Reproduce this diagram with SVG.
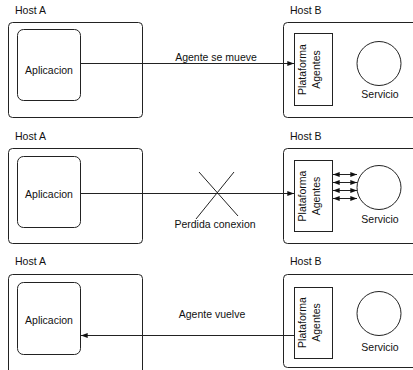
<svg xmlns="http://www.w3.org/2000/svg" width="413" height="370" viewBox="0 0 413 370">
<style>
.box{fill:none;stroke:#222;stroke-width:1}
.ln{fill:none;stroke:#222;stroke-width:1}
text{font-family:"Liberation Sans",Arial,sans-serif;font-size:10.5px;fill:#111}
.c{text-anchor:middle}
</style>
<defs>
<marker id="ah" viewBox="0 0 8 6" refX="8" refY="3" markerWidth="7" markerHeight="5" orient="auto-start-reverse" markerUnits="userSpaceOnUse">
<path d="M0,0 L8,3 L0,6 z" fill="#111"/>
</marker>
</defs>
<rect width="413" height="370" fill="#fff"/>

<!-- Panel 1 -->
<g id="hostA1">
<text x="15" y="14">Host A</text>
<rect class="box" x="8.5" y="22.5" width="134" height="95" rx="4"/>
</g>
<g id="app1">
<rect class="box" x="17.5" y="29.5" width="63" height="71" rx="6"/>
<text class="c" x="49" y="74">Aplicacion</text>
</g>
<g id="hostB1">
<text x="290" y="14">Host B</text>
<rect class="box" x="283.5" y="22.5" width="140" height="95" rx="4"/>
</g>
<g id="plat1">
<rect class="box" x="294.5" y="33.5" width="38" height="72"/>
<text class="c" transform="translate(306,69.5) rotate(-90)">Plataforma</text>
<text class="c" transform="translate(320,69.5) rotate(-90)">Agentes</text>
</g>
<g id="serv1">
<circle class="box" cx="379" cy="63.5" r="22"/>
<text class="c" x="380" y="98">Servicio</text>
</g>

<!-- Panel 2 -->
<g id="hostA2">
<text x="15" y="140">Host A</text>
<rect class="box" x="8.5" y="148.5" width="134" height="95" rx="4"/>
</g>
<g id="app2">
<rect class="box" x="17.5" y="156.5" width="63" height="71" rx="6"/>
<text class="c" x="49" y="198">Aplicacion</text>
</g>
<g id="hostB2">
<text x="290" y="140">Host B</text>
<rect class="box" x="283.5" y="148.5" width="140" height="95" rx="4"/>
</g>
<g id="plat2">
<rect class="box" x="294.5" y="160.5" width="38" height="71"/>
<text class="c" transform="translate(306,196) rotate(-90)">Plataforma</text>
<text class="c" transform="translate(320,196) rotate(-90)">Agentes</text>
</g>
<g id="serv2">
<circle class="box" cx="379" cy="187.5" r="22"/>
<text class="c" x="380" y="223">Servicio</text>
</g>

<!-- Panel 3 -->
<g id="hostA3">
<text x="15" y="265">Host A</text>
<rect class="box" x="8.5" y="274.5" width="134" height="100" rx="4"/>
</g>
<g id="app3">
<rect class="box" x="17.5" y="282.5" width="63" height="72" rx="6"/>
<text class="c" x="49" y="324">Aplicacion</text>
</g>
<g id="hostB3">
<text x="290" y="265">Host B</text>
<rect class="box" x="283.5" y="274.5" width="140" height="93" rx="4"/>
</g>
<g id="plat3">
<rect class="box" x="294.5" y="287.5" width="38" height="71"/>
<text class="c" transform="translate(306,322.5) rotate(-90)">Plataforma</text>
<text class="c" transform="translate(320,322.5) rotate(-90)">Agentes</text>
</g>
<g id="serv3">
<circle class="box" cx="379" cy="313.5" r="22"/>
<text class="c" x="380" y="351">Servicio</text>
</g>

<g id="connectors">
<line class="ln" x1="80.5" y1="63.5" x2="294" y2="63.5" marker-end="url(#ah)"/>
<text class="c" x="216" y="61">Agente se mueve</text>

<line class="ln" x1="80.5" y1="193.5" x2="294" y2="193.5" marker-end="url(#ah)"/>
<line class="ln" x1="199" y1="172" x2="238" y2="216"/>
<line class="ln" x1="234" y1="172" x2="196" y2="219"/>
<text class="c" x="215" y="228">Perdida conexion</text>
<line class="ln" x1="333" y1="174.5" x2="357" y2="174.5" marker-start="url(#ah)" marker-end="url(#ah)"/>
<line class="ln" x1="333" y1="182.5" x2="357" y2="182.5" marker-start="url(#ah)" marker-end="url(#ah)"/>
<line class="ln" x1="333" y1="190.5" x2="357" y2="190.5" marker-start="url(#ah)" marker-end="url(#ah)"/>
<line class="ln" x1="333" y1="198.5" x2="357" y2="198.5" marker-start="url(#ah)" marker-end="url(#ah)"/>

<line class="ln" x1="294" y1="335.5" x2="81" y2="335.5" marker-end="url(#ah)"/>
<text class="c" x="212" y="318">Agente vuelve</text>
</g>
</svg>
